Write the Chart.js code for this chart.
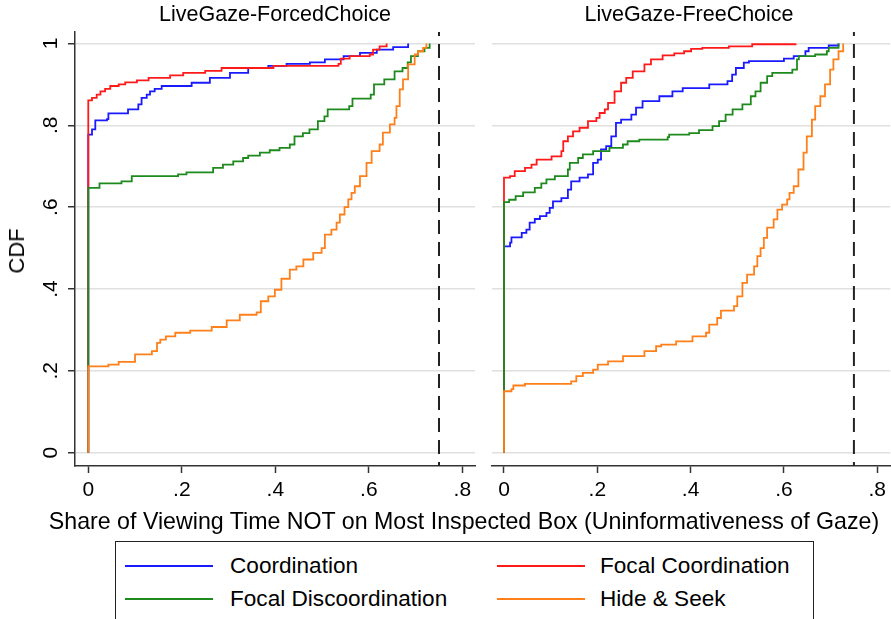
<!DOCTYPE html>
<html><head><meta charset="utf-8">
<script src="https://cdn.jsdelivr.net/npm/chart.js@4.4.1/dist/chart.umd.min.js"></script>
<style>
html,body{margin:0;padding:0;background:#fff;}
body{width:891px;height:619px;overflow:hidden;position:relative;font-family:"Liberation Sans",Arial,sans-serif;color:#000;}
.abs{position:absolute;white-space:nowrap;line-height:1;}
#cL{position:absolute;left:0;top:0;}
#cR{position:absolute;left:480px;top:0;}
.ptitle{font-size:21.5px;transform:translate(-50%,-50%);}
#ytitle{font-size:22px;transform:translate(-50%,-50%) rotate(-90deg);left:17px;top:251px;}
#xtitle{font-size:23.2px;transform:translate(-50%,-50%);left:464px;top:522px;}
#legend{position:absolute;left:115px;top:541px;width:699px;height:100px;border:1.5px solid #222;box-sizing:border-box;}
.lgline{position:absolute;height:2px;width:88px;}
.lgtext{position:absolute;font-size:22.6px;transform:translateY(-50%);white-space:nowrap;line-height:1;}
</style></head><body>
<canvas id="cL" width="480" height="540"></canvas>
<canvas id="cR" width="411" height="540"></canvas>
<div id="t0" class="abs ptitle" style="left:275px;top:15px;"></div>
<div id="t1" class="abs ptitle" style="left:689px;top:15px;"></div>
<div id="ytitle" class="abs"></div>
<div id="xtitle" class="abs"></div>
<div id="legend"></div>
<script>
// ---------- labels ----------
const panelTitles = ['LiveGaze-ForcedChoice', 'LiveGaze-FreeChoice'];
const seriesNames = ['Coordination', 'Focal Coordination', 'Focal Discoordination', 'Hide & Seek'];
const seriesColors = ['#1a1aff', '#ff1a1a', '#1e8a1e', '#ff801a'];
const yAxisTitle = 'CDF';
const xAxisTitle = 'Share of Viewing Time NOT on Most Inspected Box (Uninformativeness of Gaze)';
const xTicks = [0, 0.2, 0.4, 0.6, 0.8];
const xTickLabels = ['0', '.2', '.4', '.6', '.8'];
const yTicks = [0, 0.2, 0.4, 0.6, 0.8, 1];
const yTickLabels = ['0', '.2', '.4', '.6', '.8', '1'];
const refLineX = 0.75;

// ---------- LiveGaze-ForcedChoice ----------
const forcedCoordX = [0, 0, 0.008, 0.015, 0.040, 0.043, 0.085, 0.107, 0.114, 0.125, 0.132, 0.142, 0.157, 0.221, 0.260, 0.303, 0.342, 0.385, 0.424, 0.474, 0.506, 0.546, 0.581, 0.617, 0.652, 0.684];
const forcedCoordY = [0, 0.777, 0.790, 0.812, 0.815, 0.829, 0.839, 0.851, 0.867, 0.875, 0.883, 0.889, 0.896, 0.904, 0.916, 0.928, 0.940, 0.945, 0.950, 0.954, 0.961, 0.969, 0.977, 0.985, 0.991, 1.0];

const forcedFocalX = [0, 0, 0.008, 0.018, 0.026, 0.036, 0.047, 0.065, 0.079, 0.104, 0.129, 0.175, 0.203, 0.250, 0.285, 0.396, 0.535, 0.540, 0.559, 0.602, 0.609, 0.623, 0.638];
const forcedFocalY = [0, 0.861, 0.867, 0.875, 0.883, 0.889, 0.896, 0.900, 0.905, 0.910, 0.916, 0.922, 0.928, 0.933, 0.940, 0.945, 0.950, 0.963, 0.969, 0.973, 0.985, 0.993, 1.0];

const forcedDiscX = [0, 0, 0.024, 0.071, 0.093, 0.192, 0.210, 0.267, 0.288, 0.310, 0.331, 0.342, 0.367, 0.388, 0.409, 0.431, 0.441, 0.459, 0.473, 0.491, 0.505, 0.512, 0.558, 0.565, 0.604, 0.611, 0.633, 0.655, 0.672, 0.683, 0.690, 0.705, 0.719, 0.730];
const forcedDiscY = [0, 0.647, 0.658, 0.663, 0.676, 0.680, 0.685, 0.696, 0.704, 0.712, 0.720, 0.726, 0.733, 0.739, 0.745, 0.753, 0.773, 0.781, 0.790, 0.810, 0.822, 0.839, 0.847, 0.865, 0.875, 0.900, 0.912, 0.932, 0.940, 0.954, 0.969, 0.981, 0.989, 1.0];

const forcedHideX = [0, 0, 0.043, 0.065, 0.100, 0.136, 0.147, 0.154, 0.166, 0.186, 0.218, 0.264, 0.296, 0.324, 0.360, 0.369, 0.385, 0.399, 0.413, 0.431, 0.445, 0.460, 0.481, 0.499, 0.506, 0.520, 0.531, 0.538, 0.548, 0.556, 0.563, 0.570, 0.581, 0.595, 0.606, 0.623, 0.630, 0.645, 0.655, 0.659, 0.666, 0.673, 0.684, 0.698, 0.705, 0.716, 0.723];
const forcedHideY = [0, 0.211, 0.215, 0.222, 0.240, 0.248, 0.268, 0.276, 0.284, 0.293, 0.298, 0.307, 0.323, 0.337, 0.343, 0.370, 0.382, 0.398, 0.425, 0.447, 0.455, 0.472, 0.488, 0.500, 0.533, 0.545, 0.562, 0.582, 0.600, 0.619, 0.635, 0.651, 0.676, 0.708, 0.737, 0.753, 0.782, 0.802, 0.818, 0.847, 0.888, 0.912, 0.949, 0.973, 0.981, 0.989, 1.0];

// ---------- LiveGaze-FreeChoice ----------
const freeCoordX = [0, 0, 0.013, 0.016, 0.038, 0.048, 0.055, 0.066, 0.077, 0.091, 0.098, 0.105, 0.123, 0.137, 0.144, 0.162, 0.180, 0.191, 0.201, 0.208, 0.219, 0.230, 0.240, 0.251, 0.273, 0.283, 0.297, 0.333, 0.361, 0.383, 0.440, 0.479, 0.489, 0.497, 0.514, 0.525, 0.600, 0.621, 0.646, 0.653, 0.696, 0.717];
const freeCoordY = [0, 0.504, 0.513, 0.526, 0.537, 0.545, 0.562, 0.571, 0.578, 0.586, 0.598, 0.614, 0.622, 0.643, 0.663, 0.672, 0.680, 0.708, 0.716, 0.741, 0.749, 0.773, 0.806, 0.814, 0.826, 0.843, 0.859, 0.871, 0.883, 0.891, 0.900, 0.908, 0.924, 0.940, 0.953, 0.957, 0.963, 0.969, 0.981, 0.989, 0.995, 1.0];

const freeFocalX = [0, 0, 0.013, 0.023, 0.045, 0.059, 0.070, 0.102, 0.123, 0.127, 0.137, 0.148, 0.162, 0.180, 0.198, 0.205, 0.216, 0.223, 0.237, 0.251, 0.262, 0.276, 0.301, 0.315, 0.340, 0.365, 0.386, 0.401, 0.425, 0.482, 0.532, 0.625];
const freeFocalY = [0, 0.672, 0.676, 0.688, 0.696, 0.704, 0.716, 0.724, 0.737, 0.761, 0.773, 0.785, 0.794, 0.810, 0.818, 0.830, 0.839, 0.855, 0.883, 0.904, 0.916, 0.932, 0.949, 0.961, 0.971, 0.976, 0.981, 0.987, 0.989, 0.993, 0.998, 1.0];

const freeDiscX = [0, 0, 0.011, 0.025, 0.041, 0.066, 0.080, 0.091, 0.109, 0.137, 0.141, 0.159, 0.169, 0.191, 0.226, 0.255, 0.265, 0.290, 0.351, 0.354, 0.397, 0.418, 0.447, 0.461, 0.475, 0.490, 0.511, 0.529, 0.539, 0.550, 0.564, 0.575, 0.618, 0.628, 0.632, 0.667, 0.692, 0.696, 0.717];
const freeDiscY = [0, 0.612, 0.618, 0.627, 0.636, 0.647, 0.658, 0.668, 0.676, 0.692, 0.708, 0.720, 0.729, 0.737, 0.745, 0.753, 0.761, 0.765, 0.771, 0.777, 0.781, 0.788, 0.798, 0.810, 0.826, 0.839, 0.851, 0.871, 0.883, 0.904, 0.920, 0.928, 0.936, 0.961, 0.969, 0.973, 0.981, 0.989, 1.0];

const freeHideX = [0, 0, 0.016, 0.020, 0.045, 0.144, 0.155, 0.169, 0.191, 0.201, 0.223, 0.255, 0.301, 0.326, 0.337, 0.369, 0.404, 0.433, 0.440, 0.457, 0.465, 0.493, 0.500, 0.511, 0.521, 0.536, 0.543, 0.550, 0.557, 0.564, 0.578, 0.586, 0.596, 0.607, 0.612, 0.621, 0.631, 0.642, 0.649, 0.660, 0.667, 0.678, 0.688, 0.699, 0.706, 0.717, 0.727];
const freeHideY = [0, 0.150, 0.155, 0.164, 0.168, 0.174, 0.187, 0.195, 0.203, 0.215, 0.223, 0.236, 0.248, 0.260, 0.264, 0.272, 0.284, 0.293, 0.313, 0.329, 0.347, 0.358, 0.382, 0.415, 0.435, 0.455, 0.480, 0.500, 0.525, 0.550, 0.570, 0.594, 0.606, 0.619, 0.635, 0.651, 0.692, 0.733, 0.773, 0.814, 0.847, 0.871, 0.900, 0.936, 0.961, 0.981, 1.0];

// ---------- drawing ----------
const FONT = '"Liberation Sans", Arial, sans-serif';
const Y_MIN = -0.0327, Y_MAX = 1.028;

document.getElementById('t0').textContent = panelTitles[0];
document.getElementById('t1').textContent = panelTitles[1];
document.getElementById('ytitle').textContent = yAxisTitle;
document.getElementById('xtitle').textContent = xAxisTitle;

// legend
(function(){
  const lg = document.getElementById('legend');
  const rows = [24, 57];
  const cols = [[9, 114], [381, 484]];
  seriesNames.forEach((name, i) => {
    const r = Math.floor(i / 2), c = i % 2;
    const ln = document.createElement('div');
    ln.className = 'lgline';
    ln.style.left = cols[c][0] + 'px';
    ln.style.top = (rows[r] - 1) + 'px';
    ln.style.background = seriesColors[i];
    lg.appendChild(ln);
    const tx = document.createElement('div');
    tx.className = 'lgtext';
    tx.style.left = cols[c][1] + 'px';
    tx.style.top = rows[r] + 'px';
    tx.textContent = name;
    lg.appendChild(tx);
  });
})();

const yLabelPlugin = {
  id: 'yLabels',
  afterDraw(chart, args, opts) {
    if (!opts.show) return;
    const ys = chart.scales.y, ctx = chart.ctx;
    ctx.save();
    ctx.font = '21px ' + FONT;
    ctx.fillStyle = '#000';
    ctx.textAlign = 'center';
    ctx.textBaseline = 'middle';
    yTicks.forEach((v, i) => {
      ctx.save();
      ctx.translate(ys.right - 24, ys.getPixelForValue(v));
      ctx.rotate(-Math.PI / 2);
      ctx.fillText(yTickLabels[i], 0, 0);
      ctx.restore();
    });
    ctx.restore();
  }
};

function toXY(xs, ys) { return xs.map((x, i) => ({ x: x, y: ys[i] })); }

function buildChart(id, series, isLeft, xMin, xMax, padLeft, padRight) {
  const datasets = series.map((s, i) => ({
    label: seriesNames[i],
    data: toXY(s[0], s[1]),
    borderColor: seriesColors[i],
    backgroundColor: seriesColors[i],
    borderWidth: 1.8,
    pointRadius: 0,
    stepped: true,
    fill: false,
    order: 4 - i
  }));
  datasets.push({
    label: 'ref',
    data: [{ x: refLineX, y: Y_MAX }, { x: refLineX, y: Y_MIN }],
    borderColor: '#222',
    borderWidth: 2,
    borderDash: [14, 8],
    borderDashOffset: 10,
    pointRadius: 0,
    fill: false,
    order: 0
  });
  return new Chart(document.getElementById(id), {
    type: 'line',
    data: { datasets: datasets },
    options: {
      responsive: false,
      animation: false,
      events: [],
      layout: { autoPadding: false, padding: { top: 32, left: padLeft, right: padRight, bottom: 0 } },
      plugins: { legend: { display: false }, tooltip: { enabled: false }, yLabels: { show: isLeft } },
      scales: {
        x: {
          type: 'linear', min: xMin, max: xMax,
          afterBuildTicks: s => { s.ticks = xTicks.map(v => ({ value: v })); },
          afterFit: s => { s.height = 74; },
          ticks: { callback: (v, i) => xTickLabels[i], font: { family: FONT, size: 21 }, color: '#000', padding: 5, maxRotation: 0, autoSkip: false },
          grid: { drawOnChartArea: false, drawTicks: true, tickLength: 7, tickColor: '#333', tickWidth: 1.5 },
          border: { display: true, color: '#333', width: 1.5 }
        },
        y: {
          type: 'linear', min: Y_MIN, max: Y_MAX,
          afterBuildTicks: s => { s.ticks = yTicks.map(v => ({ value: v })); },
          afterFit: s => { s.width = isLeft ? 75 : 12; },
          ticks: { display: false },
          grid: { color: '#e0e0e0', lineWidth: 1.5, drawTicks: isLeft, tickLength: 7, tickColor: '#333', tickWidth: 1.5 },
          border: { display: isLeft, color: '#333', width: 1.5 }
        }
      }
    },
    plugins: [yLabelPlugin]
  });
}

buildChart('cL', [[forcedCoordX, forcedCoordY], [forcedFocalX, forcedFocalY], [forcedDiscX, forcedDiscY], [forcedHideX, forcedHideY]], true, -0.0284, 0.827, 0, 5);
buildChart('cR', [[freeCoordX, freeCoordY], [freeFocalX, freeFocalY], [freeDiscX, freeDiscY], [freeHideX, freeHideY]], false, -0.0257, 0.828, 0, 0);
</script>
</body></html>
